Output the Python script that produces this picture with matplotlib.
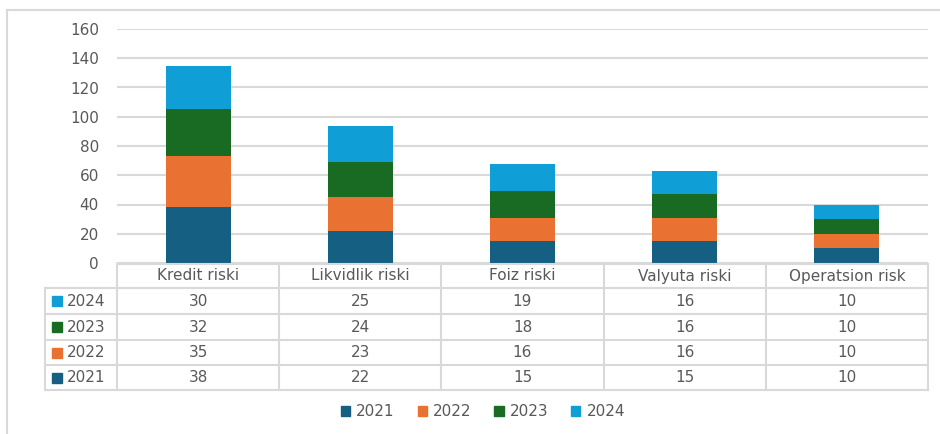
import matplotlib
matplotlib.use("Agg")
import matplotlib.pyplot as plt
from matplotlib.lines import Line2D
from matplotlib.patches import Rectangle
import numpy as np

plt.rcParams['font.family'] = ['DejaVu Sans']

categories = ["Kredit riski", "Likvidlik riski", "Foiz riski", "Valyuta riski", "Operatsion risk"]
years = ["2021", "2022", "2023", "2024"]
values = {
    "2021": [38, 22, 15, 15, 10],
    "2022": [35, 23, 16, 16, 10],
    "2023": [32, 24, 18, 16, 10],
    "2024": [30, 25, 19, 16, 10],
}
colors = {"2021": "#156082", "2022": "#E97132", "2023": "#196B24", "2024": "#0F9ED5"}
yticks = [0, 20, 40, 60, 80, 100, 120, 140, 160]

W, H = 940, 434
fig = plt.figure(figsize=(9.4, 4.34), dpi=100)
txt = "#595959"
grid = "#D9D9D9"
fs = 11

def fx(x): return x / W
def fy(y): return 1 - y / H

# outer frame
fig.add_artist(Line2D([fx(7), 1], [fy(10), fy(10)], color=grid, lw=1.5, transform=fig.transFigure))
fig.add_artist(Line2D([fx(7), fx(7)], [fy(10), 0], color=grid, lw=1.5, transform=fig.transFigure))

# main axes
L, R, T, B = 117, 928, 29, 263
ax = fig.add_axes([fx(L), fy(B), fx(R) - fx(L), fy(T) - fy(B)])
x = np.arange(len(categories))
bottom = np.zeros(len(categories))
for yr in years:
    v = np.array(values[yr])
    ax.bar(x, v, bottom=bottom, width=0.4, color=colors[yr], zorder=3, label=yr)
    bottom += v
ax.set_xlim(-0.5, len(categories) - 0.5)
ax.set_ylim(0, 160)
ax.set_yticks(yticks)
ax.set_yticklabels([str(t) for t in yticks], color=txt, fontsize=fs)
ax.tick_params(axis='y', length=0, pad=13)
ax.set_xticks([])
for s in ax.spines.values():
    s.set_visible(False)
ax.grid(axis='y', color=grid, lw=1.5, zorder=0)
ax.set_axisbelow(True)

# data table
tL = 45
ncol = len(categories)
colw = (R - L) / ncol
row_tops = [264, 288, 314, 340, 365, 390]
lc = "#D9D9D9"
lw = 1.5
def hline(y, x0, x1):
    fig.add_artist(Line2D([fx(x0), fx(x1)], [fy(y), fy(y)], color=lc, lw=lw, transform=fig.transFigure))
def vline(x0, y0, y1):
    fig.add_artist(Line2D([fx(x0), fx(x0)], [fy(y0), fy(y1)], color=lc, lw=lw, transform=fig.transFigure))

hline(row_tops[0], L, R)
for y in row_tops[1:]:
    hline(y, tL, R)
vline(tL, row_tops[1], row_tops[-1])
for i in range(ncol + 1):
    vline(L + i * colw, row_tops[0], row_tops[-1])

for i, c in enumerate(categories):
    fig.text(fx(L + (i + 0.5) * colw), fy((row_tops[0] + row_tops[1]) / 2), c,
             ha='center', va='center', color=txt, fontsize=fs)

table_order = ["2024", "2023", "2022", "2021"]
for r, yr in enumerate(table_order):
    yc = (row_tops[r + 1] + row_tops[r + 2]) / 2
    fig.add_artist(Rectangle((fx(52), fy(yc + 5)), fx(10), 10 / H, color=colors[yr], transform=fig.transFigure))
    fig.text(fx(67), fy(yc), yr, ha='left', va='center', color=txt, fontsize=fs)
    for i, v in enumerate(values[yr]):
        fig.text(fx(L + (i + 0.5) * colw), fy(yc), str(v), ha='center', va='center', color=txt, fontsize=fs)

# legend
handles = [Rectangle((0, 0), 1, 1, color=colors[yr]) for yr in years]
fig.legend(handles, years, loc='center', bbox_to_anchor=(fx(483), fy(412)), ncol=4, frameon=False,
           fontsize=fs, labelcolor=txt, handlelength=0.6, handleheight=0.6, handletextpad=0.4,
           columnspacing=1.5)

fig.savefig("out.png", dpi=100)
